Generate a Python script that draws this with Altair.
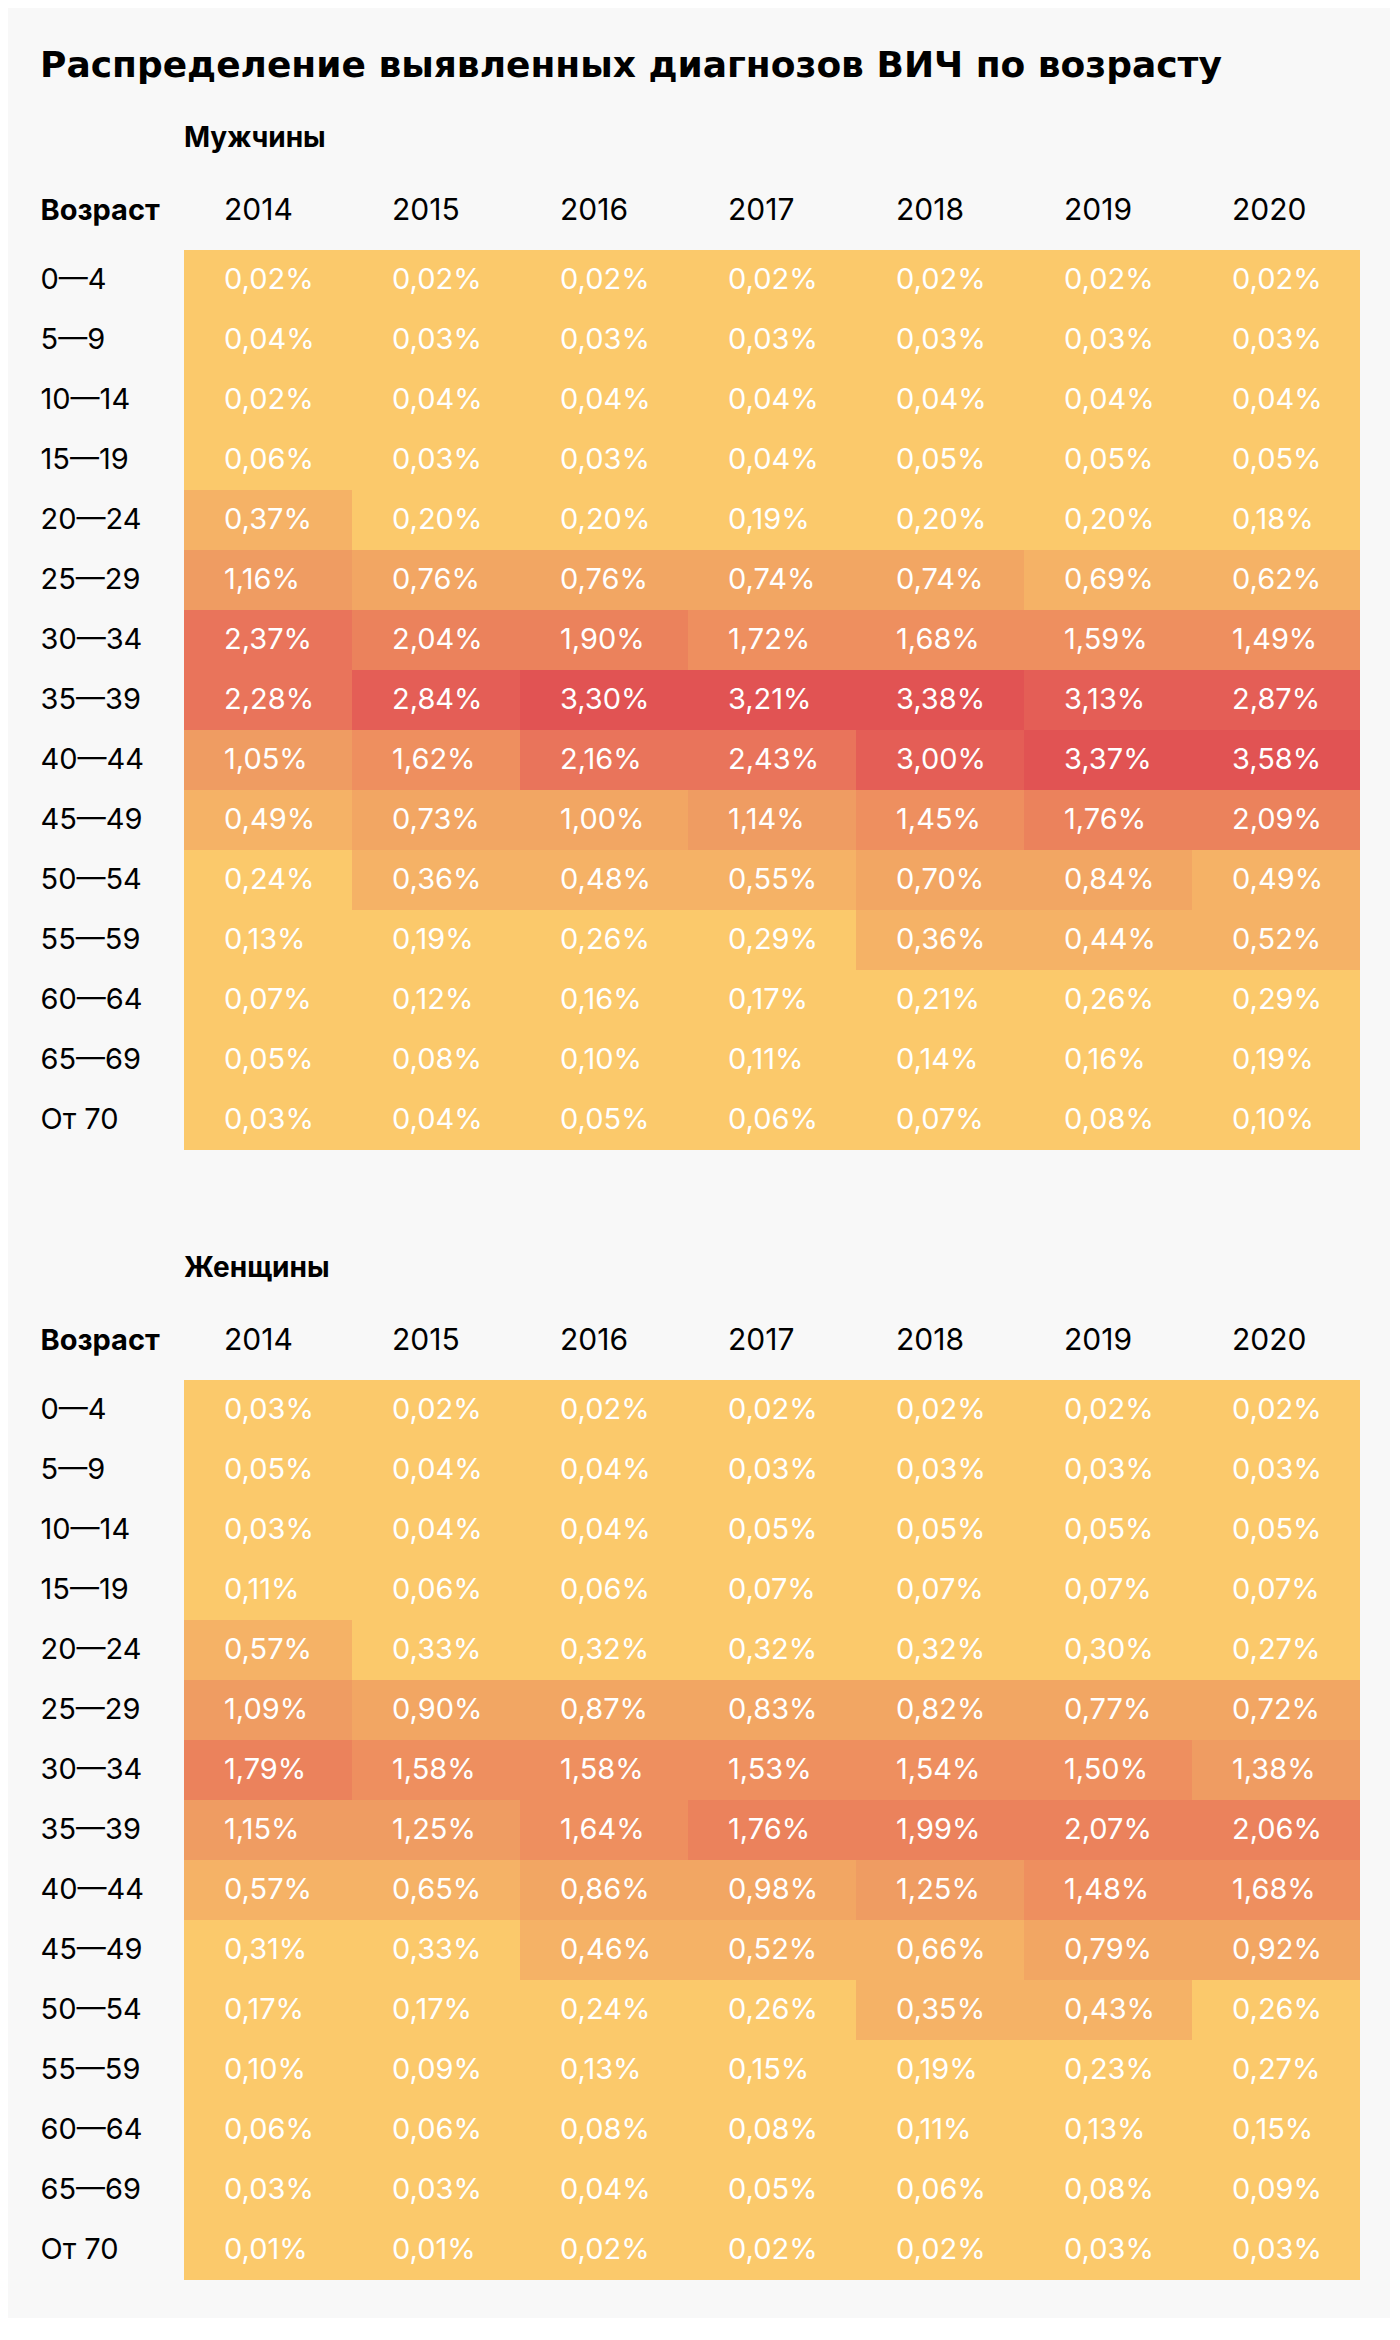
import altair as alt
import pandas as pd

years = ["2014", "2015", "2016", "2017", "2018", "2019", "2020"]
ages = ["0—4", "5—9", "10—14", "15—19", "20—24", "25—29", "30—34", "35—39",
        "40—44", "45—49", "50—54", "55—59", "60—64", "65—69", "От 70"]

male = [
    [0.02, 0.02, 0.02, 0.02, 0.02, 0.02, 0.02],
    [0.04, 0.03, 0.03, 0.03, 0.03, 0.03, 0.03],
    [0.02, 0.04, 0.04, 0.04, 0.04, 0.04, 0.04],
    [0.06, 0.03, 0.03, 0.04, 0.05, 0.05, 0.05],
    [0.37, 0.20, 0.20, 0.19, 0.20, 0.20, 0.18],
    [1.16, 0.76, 0.76, 0.74, 0.74, 0.69, 0.62],
    [2.37, 2.04, 1.90, 1.72, 1.68, 1.59, 1.49],
    [2.28, 2.84, 3.30, 3.21, 3.38, 3.13, 2.87],
    [1.05, 1.62, 2.16, 2.43, 3.00, 3.37, 3.58],
    [0.49, 0.73, 1.00, 1.14, 1.45, 1.76, 2.09],
    [0.24, 0.36, 0.48, 0.55, 0.70, 0.84, 0.49],
    [0.13, 0.19, 0.26, 0.29, 0.36, 0.44, 0.52],
    [0.07, 0.12, 0.16, 0.17, 0.21, 0.26, 0.29],
    [0.05, 0.08, 0.10, 0.11, 0.14, 0.16, 0.19],
    [0.03, 0.04, 0.05, 0.06, 0.07, 0.08, 0.10],
]

female = [
    [0.03, 0.02, 0.02, 0.02, 0.02, 0.02, 0.02],
    [0.05, 0.04, 0.04, 0.03, 0.03, 0.03, 0.03],
    [0.03, 0.04, 0.04, 0.05, 0.05, 0.05, 0.05],
    [0.11, 0.06, 0.06, 0.07, 0.07, 0.07, 0.07],
    [0.57, 0.33, 0.32, 0.32, 0.32, 0.30, 0.27],
    [1.09, 0.90, 0.87, 0.83, 0.82, 0.77, 0.72],
    [1.79, 1.58, 1.58, 1.53, 1.54, 1.50, 1.38],
    [1.15, 1.25, 1.64, 1.76, 1.99, 2.07, 2.06],
    [0.57, 0.65, 0.86, 0.98, 1.25, 1.48, 1.68],
    [0.31, 0.33, 0.46, 0.52, 0.66, 0.79, 0.92],
    [0.17, 0.17, 0.24, 0.26, 0.35, 0.43, 0.26],
    [0.10, 0.09, 0.13, 0.15, 0.19, 0.23, 0.27],
    [0.06, 0.06, 0.08, 0.08, 0.11, 0.13, 0.15],
    [0.03, 0.03, 0.04, 0.05, 0.06, 0.08, 0.09],
    [0.01, 0.01, 0.02, 0.02, 0.02, 0.03, 0.03],
]

thresholds = [0.35, 0.7, 1.05, 1.4, 1.75, 2.1, 2.45, 2.8, 3.15]
colors = ["#FBC96B", "#F5B266", "#F2A663", "#EF9C62", "#EE8F5F",
          "#EB825C", "#E9745B", "#E66958", "#E45E56", "#E15353"]

FONT = "Inter"
SIZE = 29


def to_frame(table):
    rows = []
    for a, vals in zip(ages, table):
        for y, v in zip(years, vals):
            rows.append({"age": a, "year": y, "value": v,
                         "label": f"{v:.2f}".replace(".", ",") + "%"})
    return pd.DataFrame(rows)


def panel(table, title):
    df = to_frame(table)
    base = alt.Chart(df).encode(
        x=alt.X("year:O", sort=years,
                scale=alt.Scale(paddingInner=0, paddingOuter=0),
                axis=alt.Axis(orient="top", title=None, labelAngle=0, ticks=False,
                              domain=False, labelAlign="left", labelOffset=-44,
                              labelBaseline="middle", labelPadding=40,
                              labelFontSize=30, labelFont=FONT, labelColor="#000000")),
        y=alt.Y("age:O", sort=ages,
                scale=alt.Scale(paddingInner=0, paddingOuter=0),
                axis=alt.Axis(title="Возраст", titleAngle=0, titleX=-144, titleY=-40,
                              titleAlign="left", titleBaseline="middle",
                              titleFontSize=SIZE, titleFontWeight="bold", titleFont=FONT,
                              titleColor="#000000",
                              labelAlign="left", labelPadding=144, labelBaseline="middle",
                              ticks=False, domain=False, labelFontSize=SIZE,
                              labelFont=FONT, labelColor="#000000")),
    )
    rect = base.mark_rect().encode(
        color=alt.Color("value:Q",
                        scale=alt.Scale(type="threshold", domain=thresholds, range=colors),
                        legend=None)
    )
    text = base.mark_text(align="left", dx=-44, baseline="middle", color="white",
                          fontSize=SIZE, font=FONT).encode(text="label:N")
    return alt.layer(rect, text).properties(
        width=1176, height=900,
        title=alt.TitleParams(title, anchor="start", frame="group", fontSize=28,
                              fontWeight="bold", font=FONT, color="#000000",
                              baseline="top", offset=42),
    )


chart = alt.vconcat(panel(male, "Мужчины"), panel(female, "Женщины"), spacing=105).properties(
    title=alt.TitleParams("Распределение выявленных диагнозов ВИЧ по возрасту",
                          anchor="start", fontSize=36, fontWeight="bold", font="DejaVu Sans",
                          color="#000000", baseline="top", offset=40),
    padding={"left": 32, "top": 40, "right": 30, "bottom": 38},
).configure(background="#F8F8F8").configure_view(strokeWidth=0)

chart.save("out.html", embed_options={"renderer": "svg", "actions": False})
